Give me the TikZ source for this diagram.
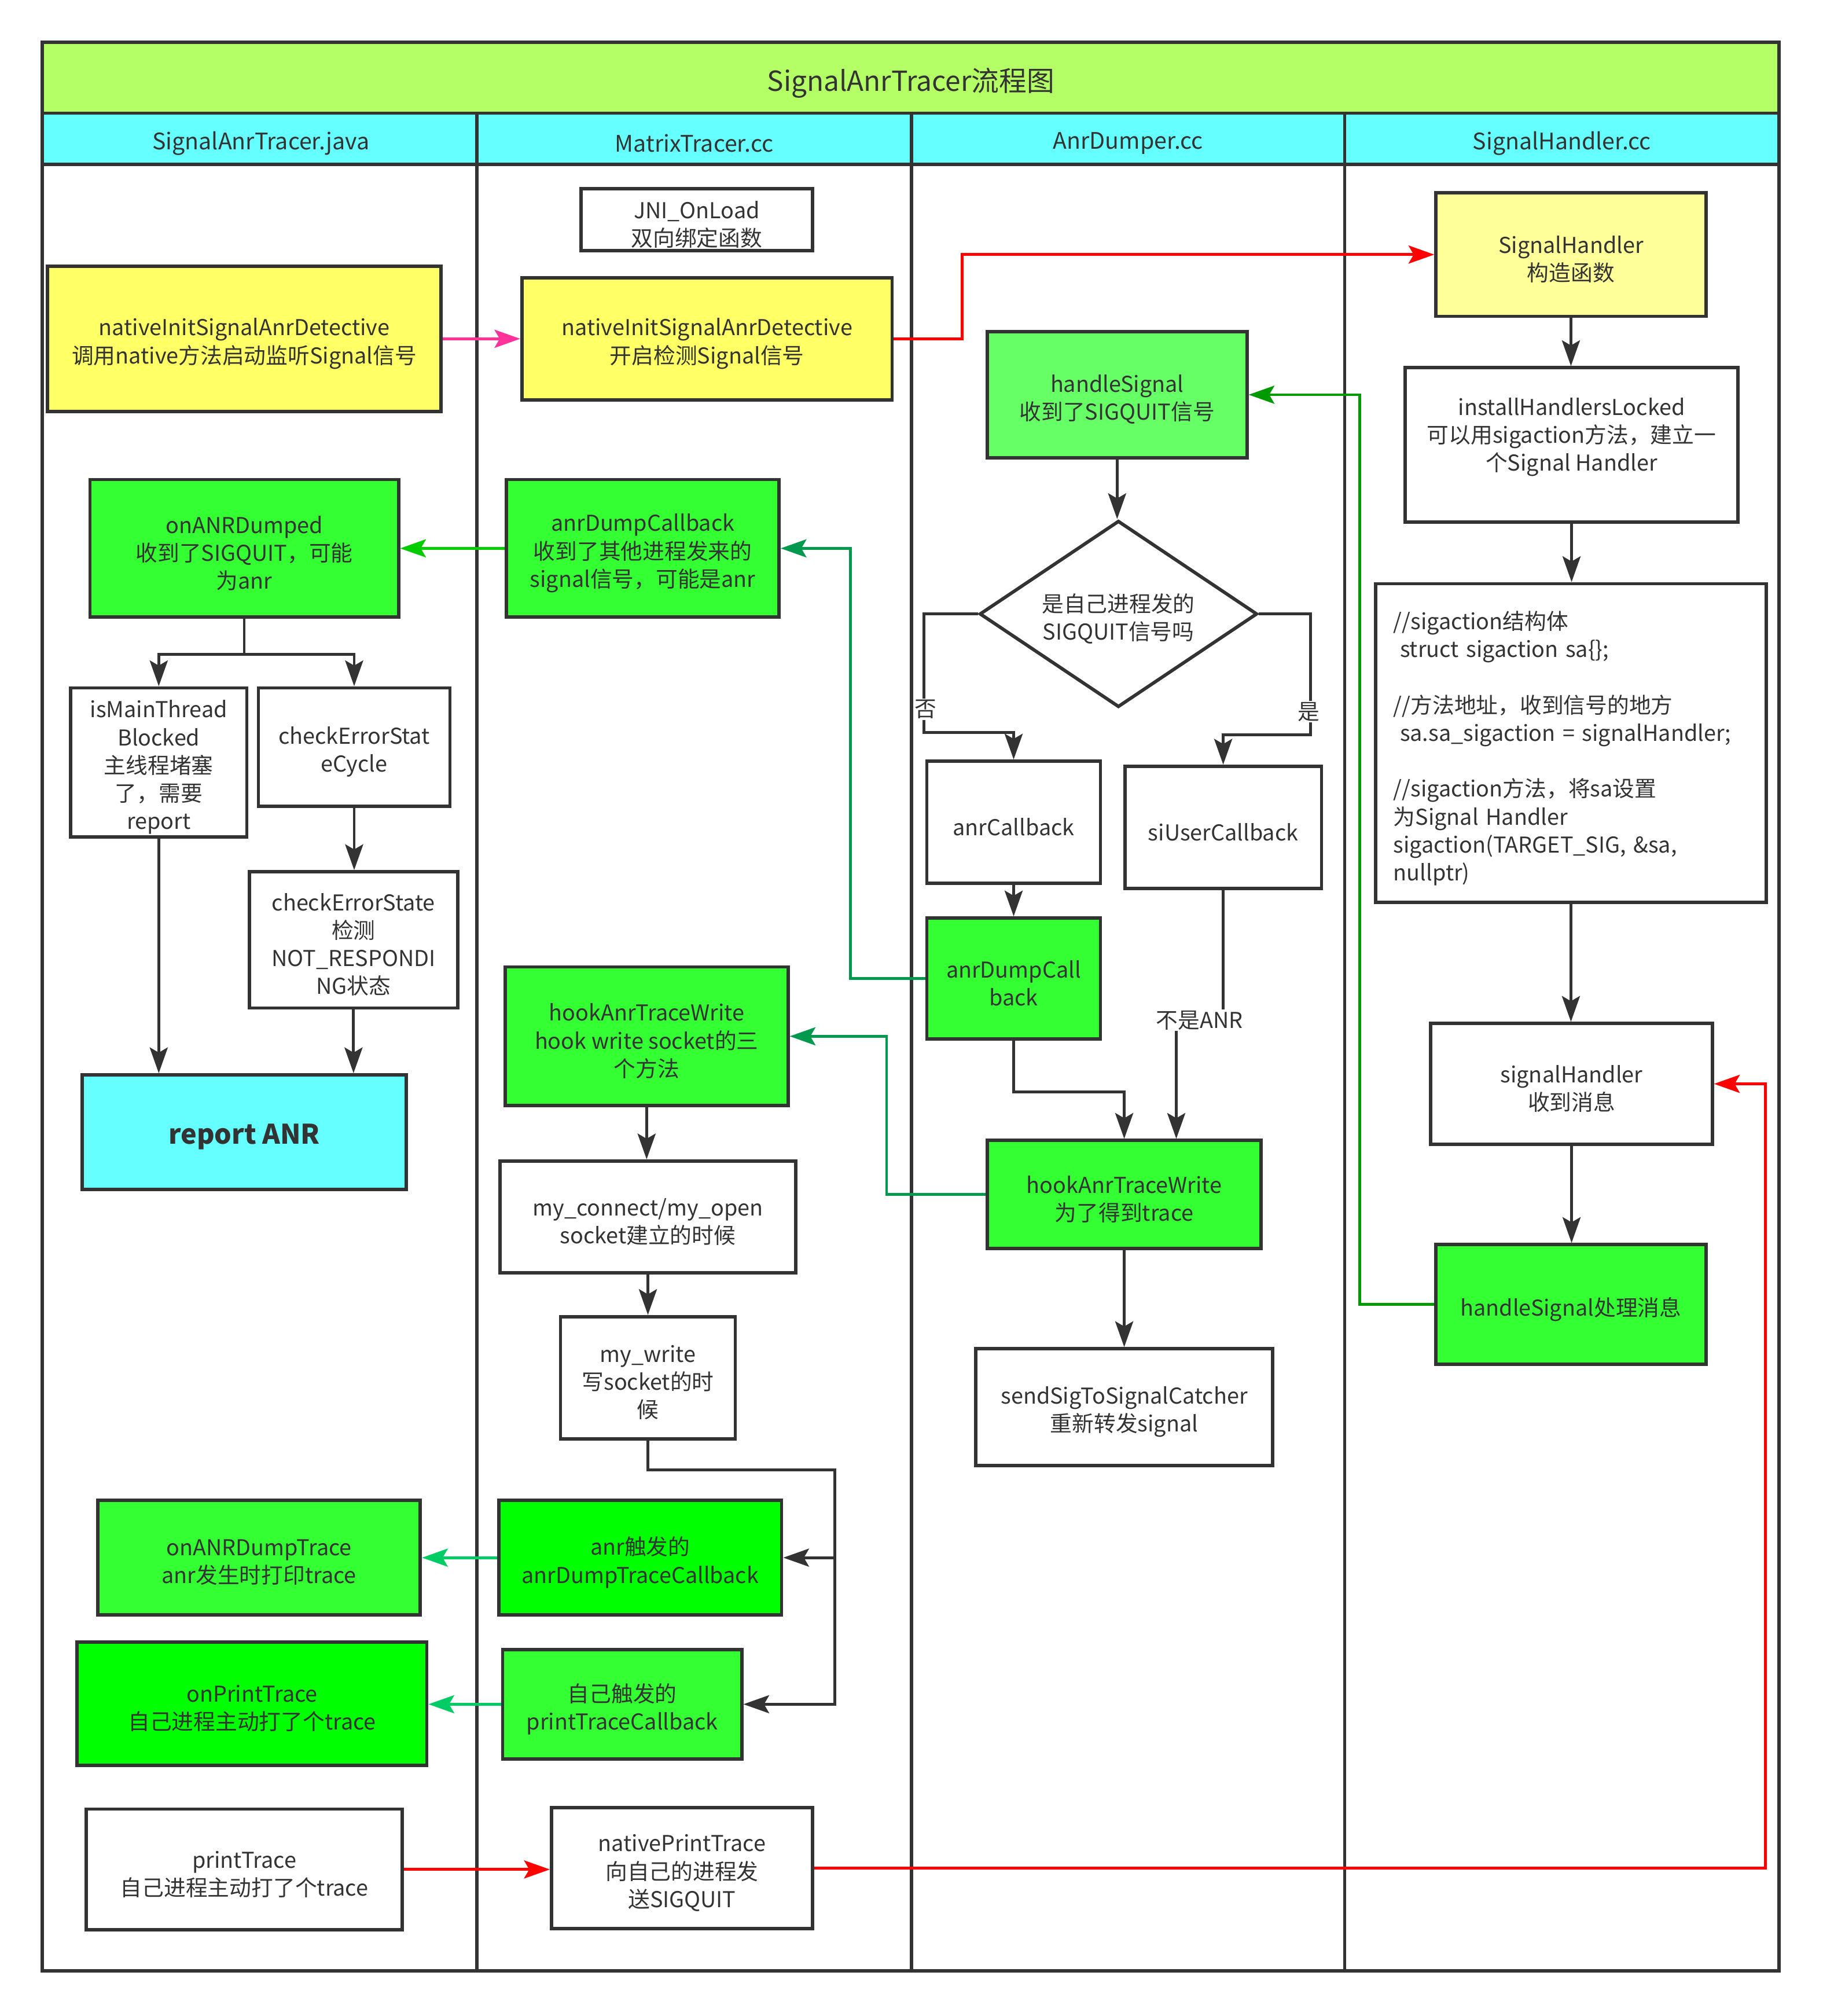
\documentclass[tikz,border=0pt]{standalone}
\usepackage{fontspec}
\setmainfont{Noto Sans CJK SC}
\usetikzlibrary{arrows.meta,shapes.geometric,calc}
\definecolor{lc}{HTML}{333333}
\definecolor{titlec}{HTML}{B5FF66}
\definecolor{headc}{HTML}{66FFFF}
\definecolor{yel}{HTML}{FFFF66}
\definecolor{lyel}{HTML}{FFFF99}
\definecolor{grn}{HTML}{33FF33}
\definecolor{lgrn}{HTML}{66FF66}
\definecolor{bgrn}{HTML}{00FF00}
\definecolor{pinkc}{HTML}{FF3399}
\definecolor{redc}{HTML}{FF0000}
\definecolor{dgrn}{HTML}{009900}
\definecolor{tgrn}{HTML}{00994D}
\definecolor{cgrn}{HTML}{00CC00}
\definecolor{mgrn}{HTML}{00CC66}
\newcommand\bodyfont{\fontsize{17}{21.7}\selectfont}
\newcommand\headfont{\fontsize{17.7}{21}\selectfont}
\newcommand\titlefont{\fontsize{21.5}{26}\selectfont}
\newcommand\lowtext{\rule{0pt}{22.5pt}}
\newbox\mytxtbox
\newcommand\txtopen{\setbox\mytxtbox=\hbox\bgroup}
\newcommand\txtclose{\egroup\ht\mytxtbox=\dimexpr\ht\mytxtbox+7.5pt\relax\box\mytxtbox}
\tikzset{
  box/.style={draw=lc, line width=2.6pt, align=center, inner sep=2pt, text=lc, font=\bodyfont, execute at begin node=\txtopen, execute at end node=\txtclose},
  frame/.style={draw=lc, line width=2.6pt},
  arr/.style={draw=lc, line width=2.2pt, -{Stealth[length=20pt,width=14pt,inset=4pt]}},
  lbl/.style={fill=white, inner sep=1pt, text=lc, font=\bodyfont},
  hd/.style={text=lc, font=\headfont}
}
\begin{document}
\begin{tikzpicture}[x=1pt,y=-1pt]
\useasboundingbox (0,0) rectangle (1418,1568);
\fill[white] (0,0) rectangle (1418,1568);
% bands
\fill[titlec] (33,33) rectangle (1384,88);
\fill[headc] (33,88) rectangle (1384,128);
\node[text=lc, font=\titlefont] (title) at (708.5,64.5) {SignalAnrTracer流程图};
\node[hd] (h1) at (203,111.5) {SignalAnrTracer.java};
\node[hd] (h2) at (540,111.5) {MatrixTracer.cc};
\node[hd] (h3) at (877.5,111.5) {AnrDumper.cc};
\node[hd] (h4) at (1215,111.5) {SignalHandler.cc};
\draw[frame] (33,33) rectangle (1384,1533);
\draw[frame] (33,88) -- (1384,88);
\draw[frame] (33,128) -- (1384,128);
\foreach \x in {371,709,1046} \draw[frame] (\x,88) -- (\x,1533);

% column 1
\node[box, fill=yel, minimum width=306pt, minimum height=113pt] (n1) at (190,263.5) {nativeInitSignalAnrDetective\\调用native方法启动监听Signal信号};
\node[box, fill=grn, minimum width=240pt, minimum height=107pt] (onANR) at (190,426.5) {onANRDumped\\收到了SIGQUIT，可能\\为anr};
\node[box, minimum width=137pt, minimum height=116pt] (isMain) at (123.5,593) {isMainThread\\Blocked\\主线程堵塞\\了，需要\\report};
\node[box, minimum width=149pt, minimum height=92pt] (chkCycle) at (275.5,581) {checkErrorStat\\eCycle};
\node[box, minimum width=162pt, minimum height=106pt] (chkState) at (275,731) {checkErrorState\\检测\\NOT\_RESPONDI\\NG状态};
\node[box, fill=headc, minimum width=252pt, minimum height=89pt, font=\fontsize{21}{25}\selectfont\bfseries] (report) at (190,880.5) {report ANR};
\node[box, fill=grn, minimum width=251pt, minimum height=89pt] (onDump) at (201.5,1211.5) {onANRDumpTrace\\anr发生时打印trace};
\node[box, fill=bgrn, minimum width=272pt, minimum height=96pt] (onPrint) at (196,1325) {onPrintTrace\\自己进程主动打了个trace};
\node[box, minimum width=246pt, minimum height=94pt] (printT) at (190,1454) {printTrace\\自己进程主动打了个trace};

% column 2
\node[box, minimum width=180pt, minimum height=46pt] (jni) at (542,171) {JNI\_OnLoad\\双向绑定函数};
\node[box, fill=yel, minimum width=288pt, minimum height=95pt] (n2) at (550,263.5) {nativeInitSignalAnrDetective\\开启检测Signal信号};
\node[box, fill=grn, minimum width=212pt, minimum height=107pt] (adc2) at (500,426.5) {anrDumpCallback\\收到了其他进程发来的\\signal信号，可能是anr};
\node[box, fill=grn, minimum width=220pt, minimum height=108pt] (hook2) at (503,806) {hookAnrTraceWrite\\hook write socket的三\\个方法};
\node[box, minimum width=230pt, minimum height=87pt] (myconn) at (504,946.5) {my\_connect/my\_open\\socket建立的时候};
\node[box, minimum width=136pt, minimum height=95pt] (mywrite) at (504,1071.5) {my\_write\\写socket的时\\候};
\node[box, fill=bgrn, minimum width=220pt, minimum height=89pt] (anrTrig) at (498,1211.5) {anr触发的\\anrDumpTraceCallback};
\node[box, fill=grn, minimum width=186pt, minimum height=85pt] (selfTrig) at (484,1325.5) {自己触发的\\printTraceCallback};
\node[box, minimum width=203pt, minimum height=94pt] (natPrint) at (530.5,1453) {nativePrintTrace\\向自己的进程发\\送SIGQUIT};

% column 3
\node[box, fill=lgrn, minimum width=202pt, minimum height=98pt] (hs) at (869,307) {handleSignal\\收到了SIGQUIT信号};
\node[box, diamond, aspect=1.5, minimum width=216pt, minimum height=145pt, inner sep=0pt] (dia) at (870,477.5) {是自己进程发的\\SIGQUIT信号吗};
\node[box, minimum width=135pt, minimum height=95pt] (anrCb) at (788.5,639.5) {anrCallback};
\node[box, minimum width=153pt, minimum height=95pt] (siUser) at (951.5,643.5) {siUserCallback};
\node[box, fill=grn, minimum width=135pt, minimum height=94pt] (adc3) at (788.5,761) {anrDumpCall\\back};
\node[box, fill=grn, minimum width=213pt, minimum height=84pt] (hook3) at (874.5,929) {hookAnrTraceWrite\\为了得到trace};
\node[box, minimum width=231pt, minimum height=91pt] (sendSig) at (874.5,1094.5) {sendSigToSignalCatcher\\重新转发signal};

% column 4
\node[box, fill=lyel, minimum width=210pt, minimum height=96pt] (sh) at (1222,198) {SignalHandler\\构造函数};
\node[box, minimum width=259pt, minimum height=120pt] (inst) at (1222.5,346) {};
\node[text=lc, font=\bodyfont, align=center, inner sep=0pt] (instT) at (1222.5,340) {installHandlersLocked\\可以用sigaction方法，建立一\\个Signal Handler};
\node[draw=lc, line width=2.6pt, text=lc, font=\bodyfont, align=left, text width=276pt, inner xsep=14pt, inner ysep=2pt, minimum width=304pt, minimum height=248pt, execute at begin node=\lowtext] (sig) at (1222,578) {//sigaction结构体\\\hspace*{5pt}struct sigaction sa\{\};\\[21.7pt]//方法地址，收到信号的地方\\\hspace*{5pt}sa.sa\_sigaction = signalHandler;\\[21.7pt]//sigaction方法，将sa设置\\为Signal Handler\\sigaction(TARGET\_SIG, \&sa,\\nullptr)};
\node[box, minimum width=219pt, minimum height=94pt] (shm) at (1222.5,843) {signalHandler\\收到消息};
\node[box, fill=grn, minimum width=210pt, minimum height=93pt] (hsm) at (1222,1014.5) {handleSignal处理消息};

% connectors
\draw[arr, draw=pinkc] (n1.east) -- (n2.west);
\draw[arr, draw=redc] (n2.east) -- ++(53,0) |- (sh.west);
\draw[arr] (sh.south) -- (sh.south |- inst.north);
\draw[arr] (inst.south) -- (inst.south |- sig.north);
\draw[arr] (sig.south) -- (sig.south |- shm.north);
\draw[arr] (shm.south) -- (shm.south |- hsm.north);
\draw[arr, draw=dgrn] (hsm.west) -- ++(-58,0) |- (hs.east);
\draw[arr] (hs.south) -- (hs.south |- dia.north);
\draw[arr] (dia.west) -- ++(-42,0) |- ([yshift=21pt]anrCb.north) -- (anrCb.north);
\draw[arr] (dia.east) -- ++(40,0) |- ([yshift=23pt]siUser.north) -- (siUser.north);
\draw[arr] (anrCb.south) -- (adc3.north);
\draw[arr, draw=tgrn] (adc3.west) -- ++(-58,0) |- (adc2.east);
\draw[arr, draw=cgrn] (adc2.west) -- (onANR.east);
\draw[arr] (onANR.south) -- ++(0,27.5) -| (isMain.north);
\draw[arr] (onANR.south) -- ++(0,27.5) -| (chkCycle.north);
\draw[arr] (chkCycle.south) -- (chkCycle.south |- chkState.north);
\draw[arr] (isMain.south) -- (isMain.south |- report.north);
\draw[arr] (chkState.south) -- (chkState.south |- report.north);
\draw[arr] (adc3.south) -- ++(0,40) -| (hook3.north);
\draw[arr] (siUser.south) -- ++(0,101) -| ([xshift=40.5pt]hook3.north);
\draw[arr, draw=tgrn] (hook3.west) -- ++(-77,0) |- (hook2.east);
\draw[arr] (hook3.south) -- (sendSig.north);
\draw[arr] (hook2.south) -- (hook2.south |- myconn.north);
\draw[arr] (myconn.south) -- (myconn.south |- mywrite.north);
\draw[arr] (mywrite.south) -- ++(0,23) -| ([xshift=71pt]selfTrig.east) -- (selfTrig.east);
\coordinate (bus) at ([xshift=71pt]selfTrig.east |- anrTrig.east);
\draw[arr] (bus) -- (anrTrig.east);
\draw[arr, draw=mgrn] (anrTrig.west) -- (onDump.east);
\draw[arr, draw=mgrn] (selfTrig.west) -- (selfTrig.west -| onPrint.east);
\draw[arr, draw=redc] (printT.east) -- (printT.east -| natPrint.west);
\draw[arr, draw=redc] (natPrint.east) -- ++(740,0) |- (shm.east);

% edge labels
\node[lbl] (lno) at (720,551.5) {否};
\node[lbl] (lyes) at (1018,553.5) {是};
\node[lbl] (lnot) at (933,793.5) {不是ANR};
\end{tikzpicture}
\end{document}
